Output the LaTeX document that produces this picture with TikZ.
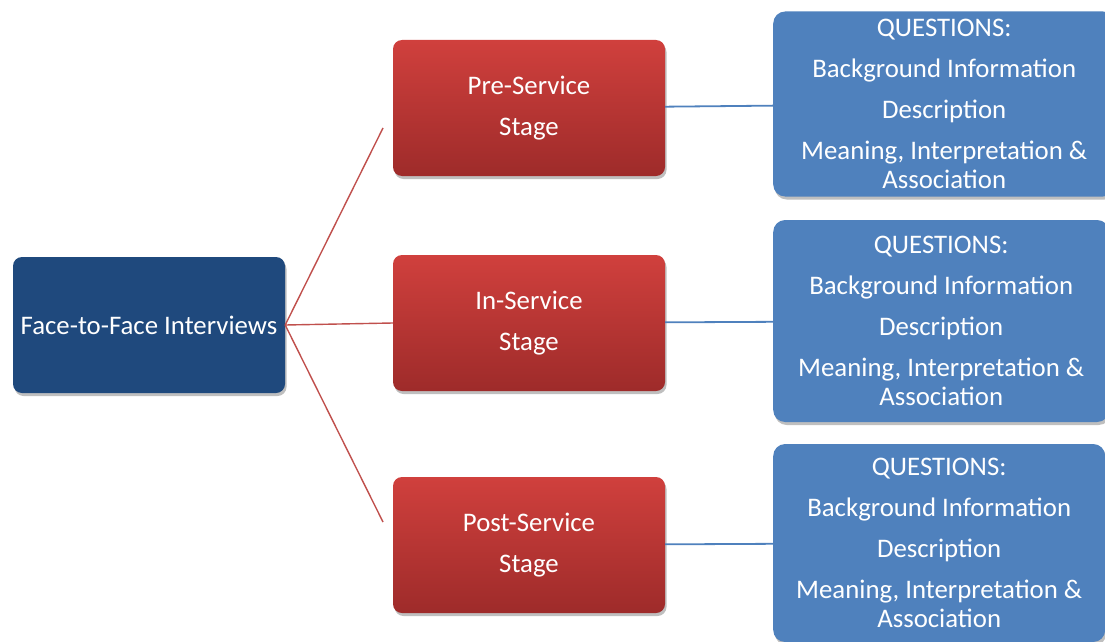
\documentclass[tikz,border=0pt]{standalone}
\usepackage{fontspec}
\setmainfont{Carlito}
\usetikzlibrary{positioning, shadows}
\definecolor{rootblue}{RGB}{31,73,125}
\definecolor{stagetop}{RGB}{208,64,61}
\definecolor{stagebot}{RGB}{158,43,42}
\definecolor{qblue}{RGB}{79,129,189}
\definecolor{linkred}{RGB}{192,80,77}
\tikzset{
	boxshadow/.style ={drop shadow={shadow xshift=1.5pt, shadow yshift=-3pt, opacity=0.25, fill=black}},
	every node/.append style={
		font=\fontsize{26.8}{29}\selectfont,
		text=white,
		align=center,
	},
	rootbox/.append style={
		fill=rootblue,
		rounded corners=9pt,
		minimum width=272pt,
		minimum height=136pt,
		boxshadow,
	},
	stagebox/.append style={
		top color=stagetop,
		bottom color=stagebot,
		rounded corners=9pt,
		minimum width=272pt,
		minimum height=136pt,
		boxshadow,
	},
	qbox/.append style={
		fill=qblue,
		rounded corners=12pt,
		inner sep=2pt,
		boxshadow,
	},
	rootlink/.append style={
		draw=linkred,
		line width=1.4pt,
	},
	qlink/.append style={
		draw=qblue,
		line width=1.8pt,
	}
}

\begin{document}
\begin{tikzpicture}[x=1pt, y=-1pt]
\useasboundingbox (0,0) rectangle (1105,642);
\clip (0,0) rectangle (1105,642);

\node(root)[rootbox] at (149,325) {Face-to-Face Interviews};

% one branch per service stage
\foreach \ii/\stg/\yy/\qy/\qh/\qw in {1/Pre/108/104/185/342, 2/In/323/321/202/336, 3/Post/545/543/198/332} {
	\node(S\ii)[stagebox] at (529,\yy) {\stg-Service\\[12pt]Stage};
	\node(Q\ii)[qbox, minimum height=\qh, minimum width=\qw, anchor=west] at (773,\qy)
		{QUESTIONS:\\[12pt]Background Information\\[12pt]Description\\[12pt]Meaning, Interpretation \&\\Association};
	\draw[qlink] (S\ii) -- (Q\ii);
};

\coordinate(topend) at (383,128);
\coordinate(botend) at (383,522);
\draw[rootlink] (root.east) -- (topend);
\draw[rootlink] (root.east) -- (S2.west);
\draw[rootlink] (root.east) -- (botend);
\end{tikzpicture}
\end{document}
